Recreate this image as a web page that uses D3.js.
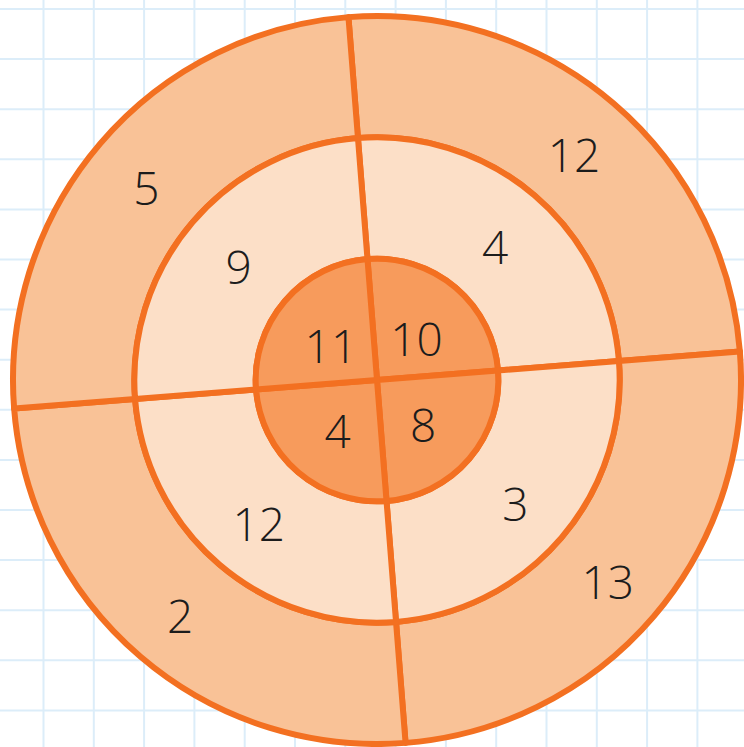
<!DOCTYPE html>
<html>
<head>
<meta charset="utf-8">
<script src="https://cdn.jsdelivr.net/npm/d3@7"></script>
<style>
  html, body { margin: 0; padding: 0; background: #fff; }
  svg { display: block; }
  .grid line { stroke: #dcedf9; stroke-width: 2; }
  .ring path { stroke: #f37021; stroke-width: 6; stroke-linejoin: round; }
  .label { font-family: "Open Sans", sans-serif; font-weight: 300; font-size: 46px; fill: #1c1c1c; }
</style>
</head>
<body>
<svg id="chart"></svg>
<script>
/* =======================
   DATA
======================= */

// rings from the centre outwards
const rings = ["inner", "middle", "outer"];

// quadrants clockwise, starting at twelve o'clock
const quadrants = ["NE", "SE", "SW", "NW"];

const innerValues = [10, 8, 4, 11];
const middleValues = [4, 3, 12, 9];
const outerValues = [12, 13, 2, 5];

const ringColors = ["#f79b5c", "#fcdfc7", "#f9c297"];

/* =======================
   CHART LOGIC
======================= */

const width = 744;
const height = 747;
const cx = 377;
const cy = 380;
const outerR = 364;
const tilt = -4.5 * Math.PI / 180; // the whole target is turned a little

const svg = d3.select("#chart")
    .attr("width", width)
    .attr("height", height);

// Graph paper background
const gridX = d3.scaleLinear().domain([0, 1]).range([43.5, 93.8]);
const gridY = d3.scaleLinear().domain([0, 1]).range([9, 59.1]);
const grid = svg.append("g").attr("class", "grid");
grid.selectAll(".gx")
    .data(d3.range(-1, 15))
    .join("line")
    .attr("x1", d => gridX(d)).attr("x2", d => gridX(d))
    .attr("y1", 0).attr("y2", height);
grid.selectAll(".gy")
    .data(d3.range(0, 15))
    .join("line")
    .attr("y1", d => gridY(d)).attr("y2", d => gridY(d))
    .attr("x1", 0).attr("x2", width);

const rScale = d3.scaleLinear().domain([0, rings.length]).range([0, outerR]);
const angle = d3.scaleLinear().domain([0, quadrants.length]).range([tilt, tilt + 2 * Math.PI]);

const table = [innerValues, middleValues, outerValues].map((vals, ri) =>
    vals.map((v, qi) => ({
        ring: rings[ri],
        ri,
        quadrant: quadrants[qi],
        value: v,
        innerRadius: rScale(ri),
        outerRadius: rScale(ri + 1),
        startAngle: angle(qi),
        endAngle: angle(qi + 1)
    }))
).flat();

const arc = d3.arc();

const g = svg.append("g")
    .attr("transform", `translate(${cx},${cy})`);

// draw outer rings first
const ringGroups = g.selectAll(".ring")
    .data(d3.groups(table, d => d.ri).reverse())
    .join("g")
    .attr("class", "ring");

ringGroups.selectAll("path")
    .data(d => d[1])
    .join("path")
    .attr("d", arc)
    .attr("fill", d => ringColors[d.ri]);

g.selectAll(".label")
    .data(table)
    .join("text")
    .attr("class", "label")
    .attr("text-anchor", "middle")
    .attr("dy", "0.42em")
    .attr("transform", d => {
        const [x, y] = arc.centroid(d);
        return `translate(${x},${y + 3})`;
    })
    .text(d => d.value);
</script>
</body>
</html>
